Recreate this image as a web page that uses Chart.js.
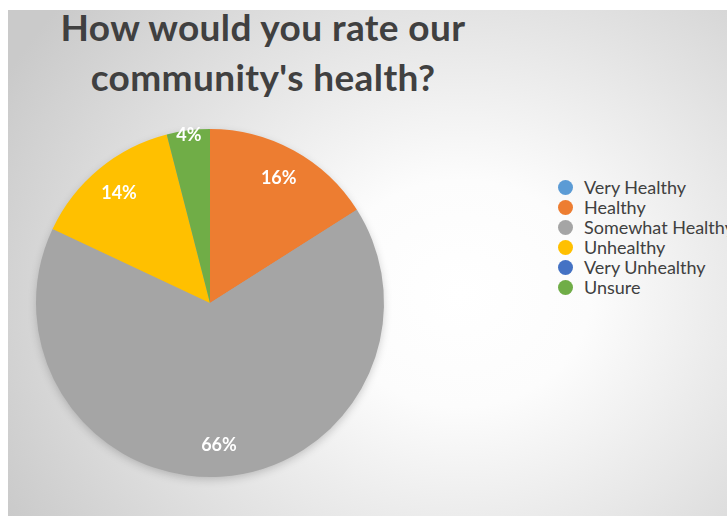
<!DOCTYPE html>
<html>
<head>
<meta charset="utf-8">
<title>Community health survey</title>
<script src="https://cdn.jsdelivr.net/npm/chart.js@4.4.1/dist/chart.umd.min.js"></script>
<style>
    html, body { margin: 0; padding: 0; background: #fff; overflow: hidden; }
    body { width: 727px; height: 516px; position: relative; font-family: Lato, "Open Sans", sans-serif; }
    .slide {
        position: absolute; left: 8px; top: 10px; right: 0; bottom: 0;
        background: radial-gradient(ellipse 72% 90% at 63% 56%, #ffffff 0%, #fcfcfc 25%, #e6e6e6 58%, #cacaca 100%);
    }
    .judul {
        position: absolute; left: 0; top: 2px; width: 526px; margin: 0;
        text-align: center; color: #404040;
        font: bold 37px/50px Lato, sans-serif; letter-spacing: 0.4px;
    }
    .chart-box { position: absolute; left: 0; top: 0; width: 524px; height: 516px; }
    #legend {
        position: absolute; left: 558px; top: 177px;
        list-style: none; margin: 0; padding: 0;
        white-space: nowrap; color: #404040; font-size: 18px;
    }
    #legend li { display: flex; align-items: center; height: 20px; }
    #legend .dot { width: 15px; height: 15px; border-radius: 50%; margin-right: 11px; flex: none; }
</style>
</head>
<body>
<div class="slide"></div>
<h1 class="judul" id="judul"></h1>
<div class="chart-box"><canvas id="healthChart"></canvas></div>
<ul id="legend"></ul>

<script>
const kategori = ['Very Healthy', 'Healthy', 'Somewhat Healthy', 'Unhealthy', 'Very Unhealthy', 'Unsure'];
const persen = [0, 16, 66, 14, 0, 4];
const warna = ['#5B9BD5', '#ED7D31', '#A5A5A5', '#FFC000', '#4472C4', '#70AD47'];
const judul = ['How would you rate our', "community's health?"];

document.getElementById('judul').innerHTML = judul.join('<br>');

// soft shadow disc under the pie
const bayangan = {
    id: 'bayangan',
    beforeDatasetsDraw(chart) {
        const arc = chart.getDatasetMeta(0).data[0];
        if (!arc) return;
        const p = arc.getProps(['x', 'y', 'outerRadius'], true);
        const ctx = chart.ctx;
        ctx.save();
        ctx.shadowColor = 'rgba(0,0,0,0.22)';
        ctx.shadowBlur = 10;
        ctx.shadowOffsetY = 3;
        ctx.fillStyle = '#a5a5a5';
        ctx.beginPath();
        ctx.arc(p.x, p.y, p.outerRadius - 1, 0, Math.PI * 2);
        ctx.fill();
        ctx.restore();
    }
};

// percentage labels inside each slice, small slices pushed out to the rim
const labelPersen = {
    id: 'labelPersen',
    afterDatasetsDraw(chart) {
        const ctx = chart.ctx;
        const meta = chart.getDatasetMeta(0);
        ctx.save();
        ctx.font = 'bold 18px Lato';
        ctx.fillStyle = '#ffffff';
        ctx.textAlign = 'center';
        ctx.textBaseline = 'middle';
        meta.data.forEach((arc, i) => {
            const nilai = chart.data.datasets[0].data[i];
            if (!nilai) return;
            const p = arc.getProps(['x', 'y', 'startAngle', 'endAngle', 'outerRadius'], true);
            const mid = (p.startAngle + p.endAngle) / 2;
            const jarak = p.outerRadius * (nilai < 5 ? 0.97 : 0.82);
            ctx.fillText(nilai + '%', p.x + Math.cos(mid) * jarak, p.y + Math.sin(mid) * jarak);
        });
        ctx.restore();
    }
};

const myChart = new Chart(document.getElementById('healthChart'), {
    type: 'pie',
    data: {
        labels: kategori,
        datasets: [{
            data: persen,
            backgroundColor: warna,
            borderWidth: 0
        }]
    },
    options: {
        responsive: true, maintainAspectRatio: false, animation: false,
        layout: { padding: { left: 36, right: 140, top: 129, bottom: 39 } },
        plugins: {
            legend: { display: false },
            tooltip: { enabled: false }
        }
    },
    plugins: [bayangan, labelPersen]
});

// legend list built from the chart's own legend items
const legendEl = document.getElementById('legend');
myChart.options.plugins.legend.labels.generateLabels(myChart).forEach(item => {
    legendEl.innerHTML += `<li><span class="dot" style="background:${item.fillStyle}"></span>${item.text}</li>`;
});
</script>
</body>
</html>
